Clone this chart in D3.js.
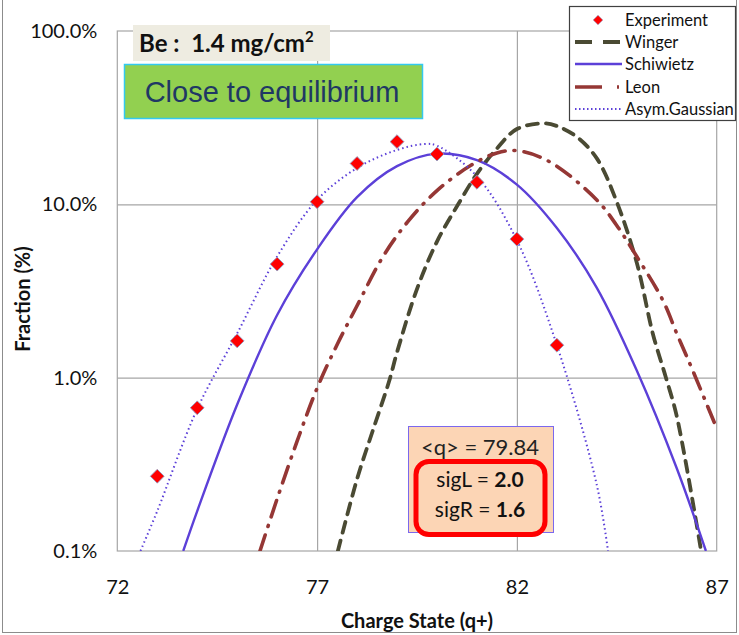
<!DOCTYPE html>
<html>
<head>
<meta charset="utf-8">
<script src="https://cdn.jsdelivr.net/npm/d3@7/dist/d3.min.js"></script>
<style>
  html, body { margin: 0; padding: 0; background: #fff; }
  svg { display: block; font-family: Lato, "Noto Sans", sans-serif; }
</style>
</head>
<body>
<svg id="chart" width="739" height="635"></svg>
<script>
// Measured charge-state fractions (fraction of beam, plotted on a log axis)
const chargeStates = [73, 74, 75, 76, 77, 78, 79, 80, 81, 82, 83];
const experiment = [0.0027, 0.0067, 0.0163, 0.0452, 0.1035, 0.172, 0.230, 0.195, 0.134, 0.063, 0.0154];

// Model curves: charge state and fraction pairs
const wingerQ = [77.52, 78, 78.4, 78.8, 79, 79.49, 80, 80.53, 81, 81.5, 82, 82.69, 83, 83.5, 84, 84.48, 85, 85.4, 85.73, 86, 86.61];
const wingerF = [0.001, 0.0026, 0.0050, 0.0095, 0.0140, 0.032, 0.061, 0.100, 0.150, 0.210, 0.272, 0.293, 0.283, 0.245, 0.184, 0.106, 0.046, 0.018, 0.010, 0.0060, 0.001];

const schiwietzQ = [73.65, 74, 75, 76, 77, 78, 79, 80, 81, 82, 83, 84, 85, 86, 86.73];
const schiwietzF = [0.001, 0.0017, 0.0070, 0.023, 0.055, 0.110, 0.166, 0.196, 0.180, 0.130, 0.073, 0.033, 0.0110, 0.0030, 0.001];

const leonQ = [75.57, 76, 76.5, 77, 77.5, 78, 78.65, 79.28, 80, 80.85, 81.5, 82, 82.82, 84, 84.49, 85, 85.65, 86, 86.4, 87];
const leonF = [0.001, 0.0020, 0.0043, 0.0087, 0.0155, 0.026, 0.050, 0.080, 0.120, 0.168, 0.198, 0.204, 0.176, 0.106, 0.076, 0.050, 0.028, 0.018, 0.011, 0.0051];

const asymQ = [72.58, 73, 74, 75, 76, 77, 78, 79, 79.7, 80, 81, 82, 83, 84, 84.28];
const asymF = [0.001, 0.0017, 0.0066, 0.0180, 0.050, 0.106, 0.162, 0.206, 0.223, 0.218, 0.145, 0.062, 0.0154, 0.0024, 0.001];

const xTicks = [72, 77, 82, 87];
const yTicks = [0.001, 0.01, 0.1, 1];

const svg = d3.select("#chart");
const plot = { left: 117.3, right: 716.7, top: 31, bottom: 551 };

const x = d3.scaleLinear().domain([72, 87]).range([plot.left, plot.right]);
const y = d3.scaleLog().domain([0.001, 1]).range([plot.bottom, plot.top]);

// outer frame
svg.append("rect")
  .attr("x", 2.5).attr("y", -2).attr("width", 734).attr("height", 634.5)
  .attr("fill", "none").attr("stroke", "#8c8c8c").attr("stroke-width", 1);

// gridlines
const gridColor = "#a6a6a6";
svg.append("g")
  .attr("transform", `translate(0,${plot.bottom})`)
  .call(d3.axisBottom(x).tickValues(xTicks.slice(1, -1)).tickSize(-(plot.bottom - plot.top)).tickFormat(""))
  .call(g => g.select(".domain").remove())
  .call(g => g.selectAll("line").attr("stroke", gridColor).attr("stroke-width", 1.2));
svg.append("g")
  .attr("transform", `translate(${plot.left},0)`)
  .call(d3.axisLeft(y).tickValues(yTicks.slice(1, -1)).tickSize(-(plot.right - plot.left)).tickFormat(""))
  .call(g => g.select(".domain").remove())
  .call(g => g.selectAll("line").attr("stroke", gridColor).attr("stroke-width", 1.2));

// plot border
svg.append("rect")
  .attr("x", plot.left).attr("y", plot.top)
  .attr("width", plot.right - plot.left).attr("height", plot.bottom - plot.top)
  .attr("fill", "none").attr("stroke", gridColor).attr("stroke-width", 1.2);

// tick labels
svg.append("g")
  .attr("transform", `translate(0,${plot.bottom})`)
  .call(d3.axisBottom(x).tickValues(xTicks).tickSize(0).tickPadding(29).tickFormat(d3.format("d")))
  .call(g => g.select(".domain").remove())
  .call(g => g.selectAll("text").attr("font-size", 20).attr("fill", "#111").attr("font-family", "Lato, sans-serif"));
svg.append("g")
  .attr("transform", `translate(${plot.left},0)`)
  .call(d3.axisLeft(y).tickValues(yTicks).tickSize(0).tickPadding(20).tickFormat(d3.format(".1%")))
  .call(g => g.select(".domain").remove())
  .call(g => g.selectAll("text").attr("font-size", 20).attr("fill", "#111").attr("font-family", "Lato, sans-serif"));

// axis titles
svg.append("text")
  .attr("x", 417).attr("y", 628)
  .attr("text-anchor", "middle").attr("font-size", 20).attr("font-weight", "bold")
  .attr("fill", "#111").text("Charge State (q+)");
svg.append("text")
  .attr("transform", `translate(30,${(plot.top + plot.bottom) / 2 + 8}) rotate(-90)`)
  .attr("text-anchor", "middle").attr("font-size", 20).attr("font-weight", "bold")
  .attr("fill", "#111").text("Fraction (%)");

// clip for curves
svg.append("clipPath").attr("id", "plotClip")
  .append("rect").attr("x", plot.left).attr("y", plot.top)
  .attr("width", plot.right - plot.left).attr("height", plot.bottom - plot.top);

const line = d3.line().x(d => x(d[0])).y(d => y(d[1])).curve(d3.curveCatmullRom.alpha(0.5));
const pairs = (qs, fs) => qs.map((q, i) => [q, fs[i]]);

const series = [
  { name: "Winger", data: pairs(wingerQ, wingerF), color: "#4a4a33", width: 3.8, dash: "11,8", cap: "round" },
  { name: "Schiwietz", data: pairs(schiwietzQ, schiwietzF), color: "#5c40d8", width: 2.4, dash: null, cap: "butt" },
  { name: "Leon", data: pairs(leonQ, leonF), color: "#953735", width: 3.6, dash: "17,9,1,9", cap: "round" },
  { name: "Asym.Gaussian", data: pairs(asymQ, asymF), color: "#5c40d8", width: 2, dash: "1.5,3", cap: "butt" }
];

const curves = svg.append("g").attr("clip-path", "url(#plotClip)");
series.forEach(s => {
  curves.append("path")
    .datum(s.data)
    .attr("d", line)
    .attr("fill", "none")
    .attr("stroke", s.color)
    .attr("stroke-width", s.width)
    .attr("stroke-linecap", s.cap)
    .attr("stroke-dasharray", s.dash);
});

// experimental points
const diamond = d3.symbol().type(d3.symbolSquare).size(96);
svg.append("g").selectAll("path")
  .data(chargeStates.map((q, i) => [q, experiment[i]]))
  .join("path")
  .attr("d", diamond)
  .attr("transform", d => `translate(${x(d[0])},${y(d[1])}) rotate(45)`)
  .attr("fill", "#ff0000")
  .attr("stroke", "#8ea0c8")
  .attr("stroke-width", 0.8);

// target label
svg.append("rect")
  .attr("x", 133).attr("y", 25).attr("width", 197).attr("height", 36)
  .attr("fill", "#eeece1");
const be = svg.append("text")
  .attr("x", 139).attr("y", 52)
  .attr("font-size", 24).attr("font-weight", "bold").attr("fill", "#111")
  .attr("xml:space", "preserve");
be.append("tspan").text("Be :  1.4 mg/cm");
be.append("tspan").attr("font-size", 15).attr("dy", -10).text("2");

// condition label
svg.append("rect")
  .attr("x", 124.5).attr("y", 64.5).attr("width", 298).attr("height", 54)
  .attr("fill", "#92d050").attr("stroke", "#33c9f0").attr("stroke-width", 1.5);
svg.append("text")
  .attr("x", 272).attr("y", 102)
  .attr("text-anchor", "middle")
  .attr("font-family", "'Liberation Sans', Arial, sans-serif")
  .attr("font-size", 29).attr("fill", "#1f3864")
  .text("Close to equilibrium");

// fit parameters box
svg.append("rect")
  .attr("x", 408.5).attr("y", 426.5).attr("width", 145).attr("height", 106)
  .attr("fill", "#fcd5b5").attr("stroke", "#7b68ee").attr("stroke-width", 1);
svg.append("text")
  .attr("x", 480).attr("y", 455).attr("text-anchor", "middle")
  .attr("font-size", 22).attr("fill", "#222").text("<q> = 79.84");
svg.append("rect")
  .attr("x", 416).attr("y", 461.5).attr("width", 129).attr("height", 73).attr("rx", 13)
  .attr("fill", "none").attr("stroke", "#ff0000").attr("stroke-width", 5);
const sigL = svg.append("text")
  .attr("x", 480).attr("y", 487).attr("text-anchor", "middle")
  .attr("font-size", 21).attr("fill", "#111");
sigL.append("tspan").text("sigL = ");
sigL.append("tspan").attr("font-weight", "bold").text("2.0");
const sigR = svg.append("text")
  .attr("x", 480).attr("y", 517).attr("text-anchor", "middle")
  .attr("font-size", 21).attr("fill", "#111");
sigR.append("tspan").text("sigR = ");
sigR.append("tspan").attr("font-weight", "bold").text("1.6");

// legend
const legend = svg.append("g");
legend.append("rect")
  .attr("x", 569.5).attr("y", 6.5).attr("width", 166).attr("height", 114)
  .attr("fill", "#fff").attr("stroke", "#404040").attr("stroke-width", 1.2);
const legendRows = [
  { name: "Experiment", y: 20 },
  { name: "Winger", y: 42 },
  { name: "Schiwietz", y: 64 },
  { name: "Leon", y: 87 },
  { name: "Asym.Gaussian", y: 109 }
];
const legendDash = { Winger: "17,11", Leon: "27,15,2,20", Schiwietz: null, "Asym.Gaussian": "1.5,2.5" };
legendRows.forEach((r, i) => {
  if (i === 0) {
    legend.append("path")
      .attr("d", d3.symbol().type(d3.symbolSquare).size(46))
      .attr("transform", `translate(598,${r.y}) rotate(45)`)
      .attr("fill", "#ff0000").attr("stroke", "#8ea0c8").attr("stroke-width", 0.6);
  } else {
    const s = series[i - 1];
    legend.append("line")
      .attr("x1", 575).attr("x2", 622).attr("y1", r.y).attr("y2", r.y)
      .attr("stroke", s.color)
      .attr("stroke-width", s.width)
      .attr("stroke-linecap", "butt")
      .attr("stroke-dasharray", legendDash[s.name]);
  }
  legend.append("text")
    .attr("x", 625).attr("y", r.y + 5.5)
    .attr("font-size", 16.5).attr("fill", "#111")
    .text(r.name);
});
</script>
</body>
</html>
